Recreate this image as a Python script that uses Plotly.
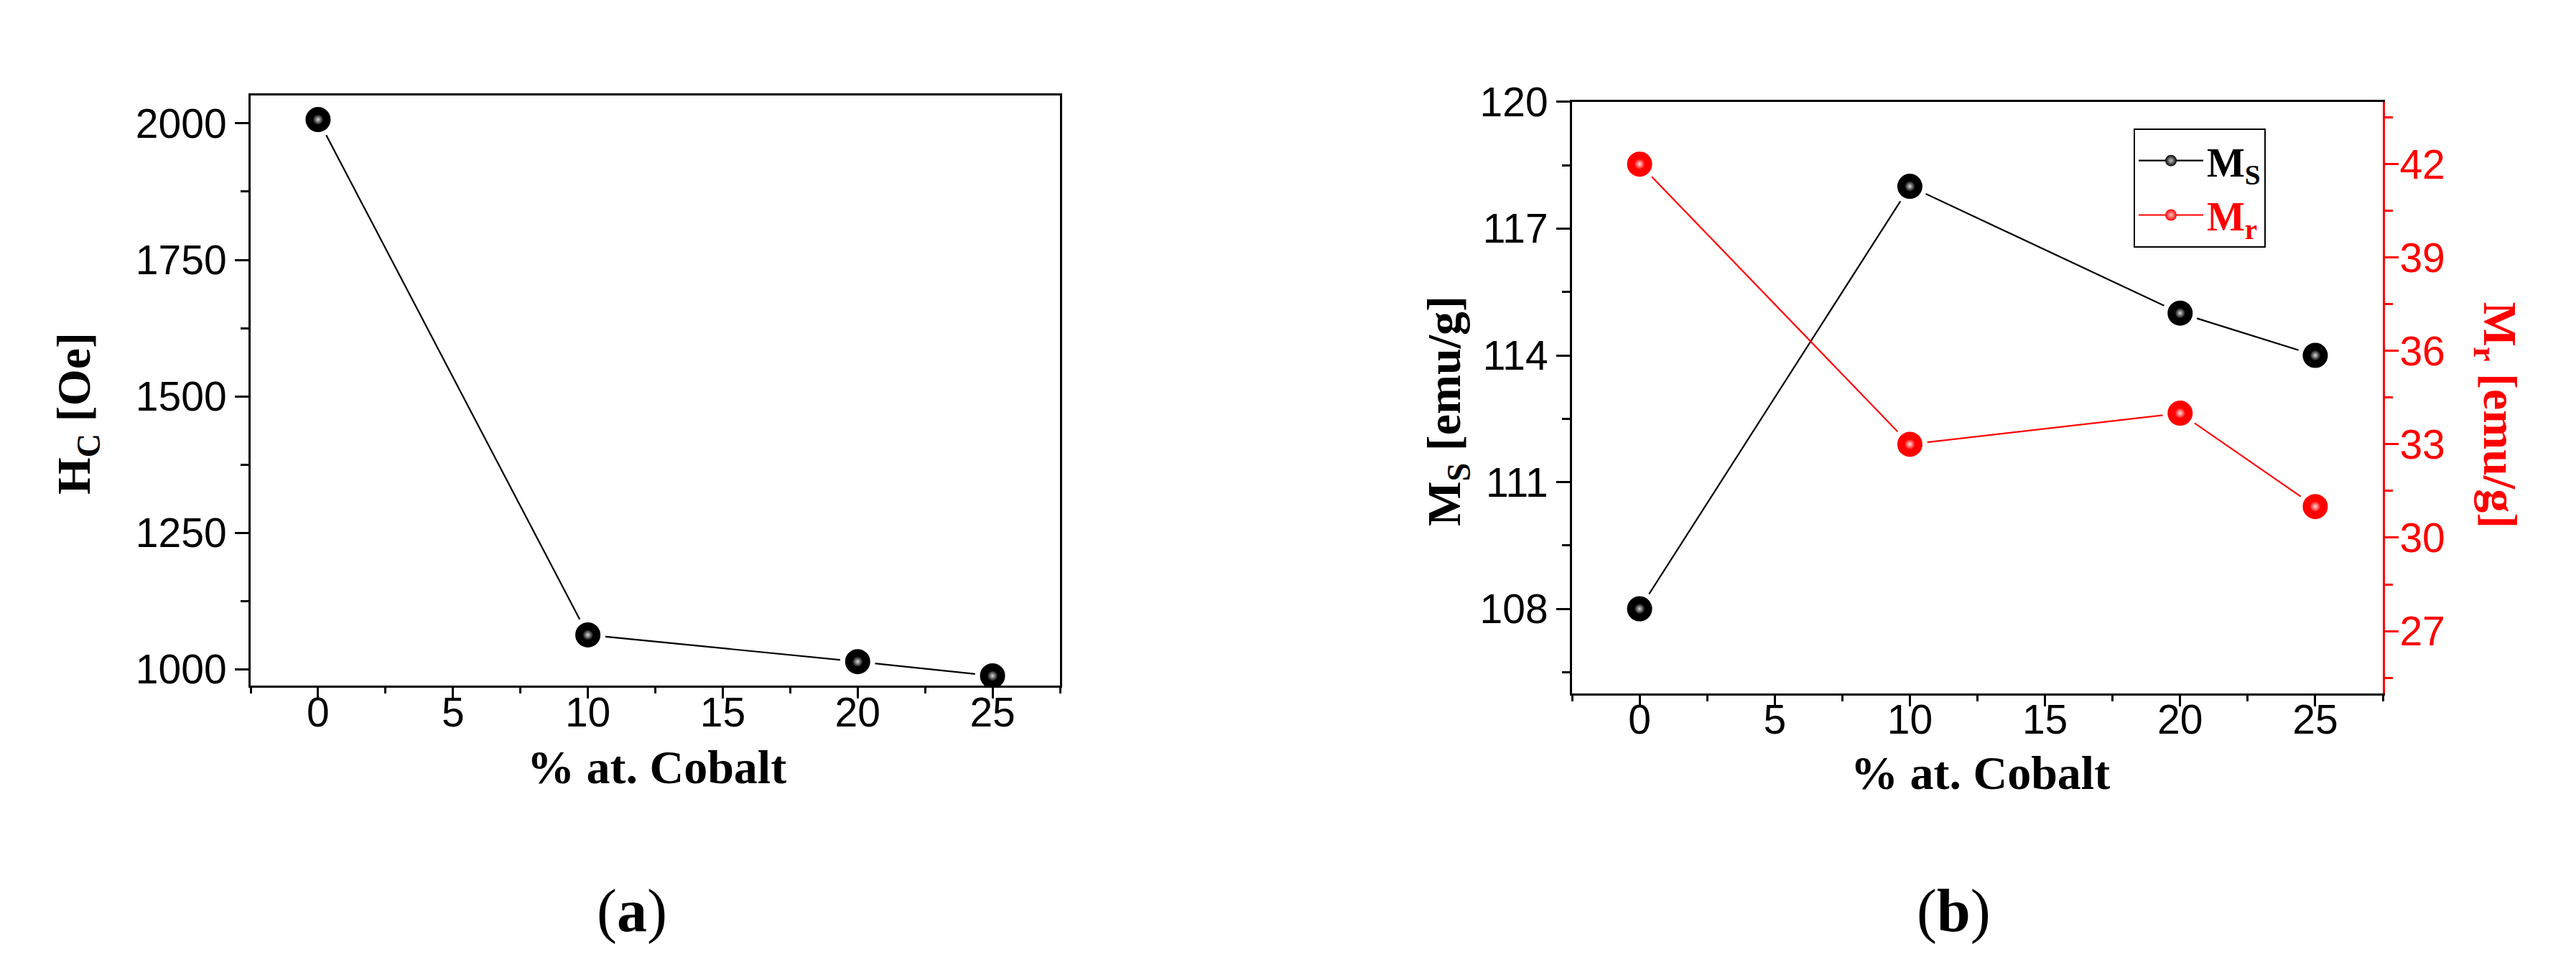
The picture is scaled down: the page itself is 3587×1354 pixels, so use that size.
import plotly.graph_objects as go

# ---------------- data ----------------
cobalt = [0, 10, 20, 25]
hc_oe = [2007, 1063, 1014, 988]
ms_emu_g = [108, 118, 115, 114]
mr_emu_g = [42, 33, 34, 31]

x_ticks = [0, 5, 10, 15, 20, 25]

W, H = 3587, 1354


def px(x):
    return x / W


def py(y):
    return 1 - y / H


TICK_FONT = dict(family="Liberation Sans, Arial", size=57, color="black")
TITLE_FONT = dict(family="Liberation Serif, Times New Roman", size=66, color="black")
RED = "#ff0000"

fig = go.Figure()


def ball_traces(x, y, color, glint_center, xa, ya):
    main = go.Scatter(
        x=x, y=y, xaxis=xa, yaxis=ya, mode="lines+markers",
        showlegend=False,
        line=dict(color=color, width=2.2),
        marker=dict(size=42, color=color, line=dict(color="white", width=7)),
        hoverinfo="x+y",
    )
    glint = go.Scatter(
        x=x, y=y, xaxis=xa, yaxis=ya, mode="markers", showlegend=False,
        marker=dict(size=15, color=color, line=dict(width=0),
                    gradient=dict(type="radial", color=glint_center)),
        hoverinfo="skip",
    )
    return [main, glint]


def legend_entry(name, color, glint_center, ya):
    # legend-only entry (no data points) describing a series
    return go.Scatter(
        x=[None], y=[None], xaxis="x2", yaxis=ya, mode="lines+markers", name=name,
        line=dict(color=color, width=2.2),
        marker=dict(size=16, color=color, line=dict(width=0),
                    gradient=dict(type="radial", color=glint_center)),
        showlegend=True, hoverinfo="skip",
    )


for t in ball_traces(cobalt, hc_oe, "black", "#d9d9d9", "x", "y"):
    fig.add_trace(t)
for t in ball_traces(cobalt, ms_emu_g, "black", "#d9d9d9", "x2", "y2"):
    fig.add_trace(t)
for t in ball_traces(cobalt, mr_emu_g, RED, "#ffe0e0", "x2", "y3"):
    fig.add_trace(t)

fig.add_trace(legend_entry("<b>M<sub>S</sub></b>", "black", "#c8c8c8", "y2"))
fig.add_trace(legend_entry("<b><span style='color:#ff0000'>M<sub>r</sub></span></b>",
                           RED, "#ffc0c0", "y3"))

common_x = dict(
    range=[-2.5, 27.5], tickmode="array", tickvals=x_ticks,
    ticks="outside", ticklen=15, tickwidth=3, tickcolor="black",
    showline=True, linewidth=3, linecolor="black", mirror=True,
    showgrid=False, zeroline=False, tickfont=TICK_FONT,
    ticklabelstandoff=-30,
    minor=dict(dtick=2.5, tick0=0, ticks="outside", ticklen=8, tickwidth=3,
               tickcolor="black", showgrid=False),
)

common_y = dict(
    ticks="outside", ticklen=19, tickwidth=3, tickcolor="black",
    showline=True, linewidth=3, linecolor="black",
    showgrid=False, zeroline=False, tickfont=TICK_FONT,
)

fig.update_layout(
    width=W, height=H,
    margin=dict(l=0, r=0, t=0, b=0),
    paper_bgcolor="white", plot_bgcolor="white",
    xaxis=dict(domain=[px(341), px(1468)], anchor="y", **common_x),
    yaxis=dict(domain=[py(943), py(96)], anchor="x", range=[970, 2051],
               tick0=0, dtick=250, mirror=True,
               minor=dict(dtick=125, tick0=0, ticks="outside", ticklen=11,
                          tickwidth=3, tickcolor="black", showgrid=False),
               **common_y),
    xaxis2=dict(domain=[px(2181), px(3310)], anchor="y2", **common_x),
    yaxis2=dict(domain=[py(954), py(105)], anchor="x2", range=[106, 120],
                tick0=0, dtick=3, mirror=False,
                minor=dict(dtick=1.5, tick0=0, ticks="outside", ticklen=11,
                           tickwidth=3, tickcolor="black", showgrid=False),
                **common_y),
    yaxis3=dict(overlaying="y2", anchor="x2", side="right", range=[25, 44],
                tick0=0, dtick=3,
                ticks="outside", ticklen=19, tickwidth=3, tickcolor=RED,
                showline=True, linewidth=3, linecolor=RED,
                showgrid=False, zeroline=False, ticklabelstandoff=-10,
                tickfont=dict(family="Liberation Sans, Arial", size=57, color=RED),
                minor=dict(dtick=1.5, tick0=0, ticks="outside", ticklen=11,
                           tickwidth=3, tickcolor=RED, showgrid=False)),
    legend=dict(
        x=px(2963), y=py(143), xanchor="left", yanchor="top",
        bordercolor="black", borderwidth=2, bgcolor="white",
        font=dict(family="Liberation Serif, Times New Roman", size=56, color="black"),
        itemsizing="trace", tracegroupgap=0, itemwidth=90,
    ),
)

annotations = [
    dict(text="<b>% at. Cobalt</b>", x=px(906), y=py(1060), textangle=0),
    dict(text="<b>% at. Cobalt</b>", x=px(2749), y=py(1068), textangle=0),
    dict(text="<b>H<sub>C</sub> [Oe]</b>", x=px(100), y=py(552), textangle=-90),
    dict(text="<b>M<sub>S</sub> [emu/g]</b>", x=px(2008), y=py(548), textangle=-90),
    dict(text="<b>M<sub>r</sub> [emu/g]</b>", x=px(3468), y=py(555), textangle=90,
         font=dict(family="Liberation Serif, Times New Roman", size=66, color=RED)),
]
for a in annotations:
    a.setdefault("font", TITLE_FONT)
    fig.add_annotation(xref="paper", yref="paper", showarrow=False,
                       xanchor="center", yanchor="middle", **a)

for label, xc in (("a", 872), ("b", 2712)):
    fig.add_annotation(
        xref="paper", yref="paper", showarrow=False, xanchor="center", yanchor="middle",
        x=px(xc), y=py(1266), text=f"(<b>{label}</b>)",
        font=dict(family="Liberation Serif, Times New Roman", size=84, color="black"),
    )

fig.write_html("out.html")
